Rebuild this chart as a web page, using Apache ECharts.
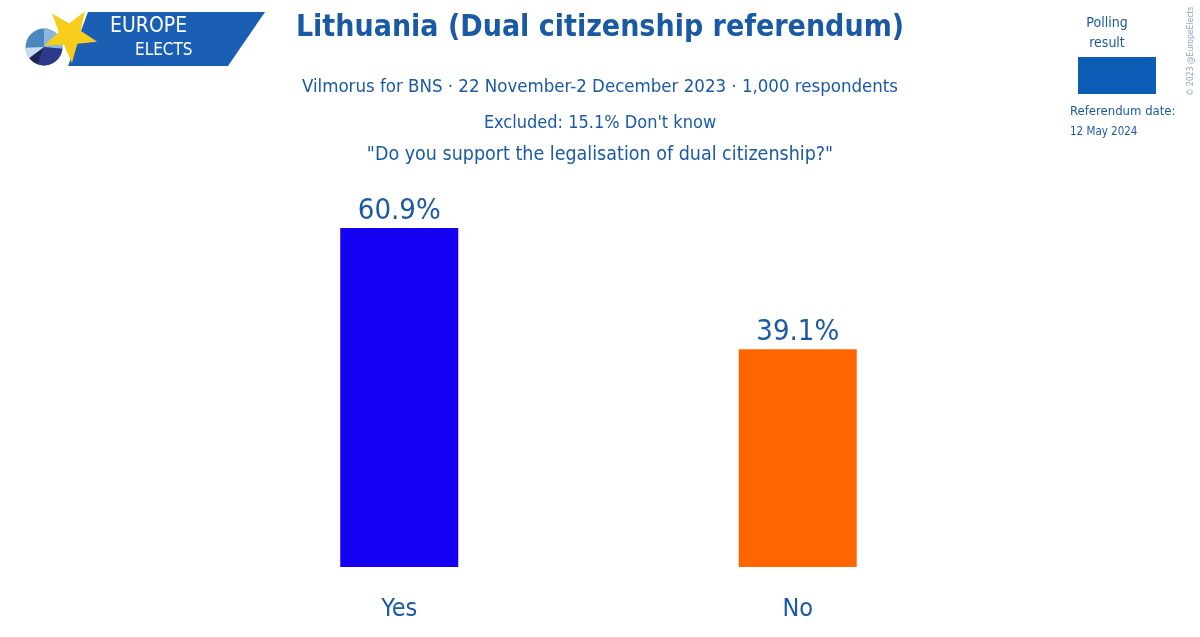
<!DOCTYPE html>
<html><head><meta charset="utf-8">
<script src="https://cdn.jsdelivr.net/npm/echarts@6/dist/echarts.min.js"></script>
<style>html,body{margin:0;padding:0;background:#fff}#c{width:1200px;height:637px}</style>
</head><body><div id="c"></div>
<script>
const categories = ['Yes', 'No'];
const values = [60.9, 39.1];
const barColors = ['#1400F2', '#FF6600'];
const titleText = 'Lithuania (Dual citizenship referendum)';
const subtitleText = 'Vilmorus for BNS · 22 November-2 December 2023 · 1,000 respondents';
const excludedText = "Excluded: 15.1% Don't know";
const questionText = '"Do you support the legalisation of dual citizenship?"';

const TXT = '#1a5aa5';
const FONT = '"Liberation Sans Narrow", "DejaVu Sans Condensed", sans-serif';

const chart = echarts.init(document.getElementById('c'));

function starPoints(cx, cy, R, r, rot) {
  const pts = [];
  for (let i = 0; i < 10; i++) {
    const a = rot + i * Math.PI / 5;
    const rr = i % 2 === 0 ? R : r;
    pts.push([cx + rr * Math.sin(a), cy - rr * Math.cos(a)]);
  }
  return pts;
}

chart.setOption({
  animation: false,
  backgroundColor: '#ffffff',
  grid: { left: 200, right: 203, top: 228, bottom: 70, containLabel: false },
  xAxis: {
    type: 'category', data: categories,
    axisLine: { show: false }, axisTick: { show: false },
    axisLabel: { color: TXT, fontFamily: FONT, fontSize: 25, margin: 30 }
  },
  yAxis: { type: 'value', min: 0, max: 60.9, show: false, splitLine: { show: false } },
  series: [{
    type: 'bar', barWidth: 118,
    data: values.map((v, i) => ({ value: v, itemStyle: { color: barColors[i] } })),
    label: {
      show: true, position: 'top', distance: 2, color: TXT, fontFamily: FONT, fontSize: 29,
      formatter: p => p.value.toFixed(1) + '%'
    }
  }],
  graphic: [
    // Titles
    { type: 'text', left: 'center', top: 13, style: { text: titleText, fill: TXT, font: 'bold 30px ' + FONT } },
    { type: 'text', left: 'center', top: 78, style: { text: subtitleText, fill: TXT, font: '18.5px ' + FONT } },
    { type: 'text', left: 'center', top: 114, style: { text: excludedText, fill: TXT, font: '18px ' + FONT } },
    { type: 'text', left: 'center', top: 145, style: { text: questionText, fill: TXT, font: '19.5px ' + FONT } },
    // Logo
    { type: 'polygon', z: 1, shape: { points: [[88, 12], [265, 12], [228, 66], [68, 66]] }, style: { fill: '#1a5fb4' } },
    { type: 'circle', z: 2, shape: { cx: 44, cy: 47, r: 18.5 }, style: { fill: '#4a87bf' } },
    { type: 'sector', z: 3, shape: { cx: 44, cy: 47, r: 18.5, startAngle: -Math.PI / 2, endAngle: 0.1 }, style: { fill: '#8fb6dc' } },
    { type: 'sector', z: 3, shape: { cx: 44, cy: 47, r: 18.5, startAngle: 0.1, endAngle: 1.9 }, style: { fill: '#2c3a8c' } },
    { type: 'sector', z: 3, shape: { cx: 44, cy: 47, r: 18.5, startAngle: 1.9, endAngle: 2.5 }, style: { fill: '#1c2456' } },
    { type: 'sector', z: 3, shape: { cx: 44, cy: 47, r: 18.5, startAngle: 2.5, endAngle: 3.1 }, style: { fill: '#c8dcef' } },
    { type: 'polygon', z: 10, shape: { points: starPoints(70, 35, 28, 11.5, 0.56) }, style: { fill: '#f7cd1c' } },
    { type: 'text', z: 10, left: 110, top: 16, style: { text: 'EUROPE', fill: '#fff', font: '21px ' + FONT } },
    { type: 'text', z: 10, left: 135, top: 42, style: { text: 'ELECTS', fill: '#fff', font: '17px ' + FONT } },
    // Legend
    { type: 'text', x: 1107, y: 13, style: { text: 'Polling\nresult', fill: TXT, font: '14px ' + FONT, align: 'center', lineHeight: 20 } },
    { type: 'rect', shape: { x: 1078, y: 57, width: 78, height: 37 }, style: { fill: '#0a5cb4' } },
    { type: 'text', x: 1070, y: 105, style: { text: 'Referendum date:', fill: TXT, font: '13px ' + FONT } },
    { type: 'text', x: 1070, y: 126, style: { text: '12 May 2024', fill: TXT, font: '11.5px ' + FONT } },
    { type: 'text', x: 1186, y: 96, rotation: Math.PI / 2, style: { text: '© 2023 @EuropeElects', fill: '#8aa3c2', font: '8.5px ' + FONT } }
  ]
});
</script></body></html>
